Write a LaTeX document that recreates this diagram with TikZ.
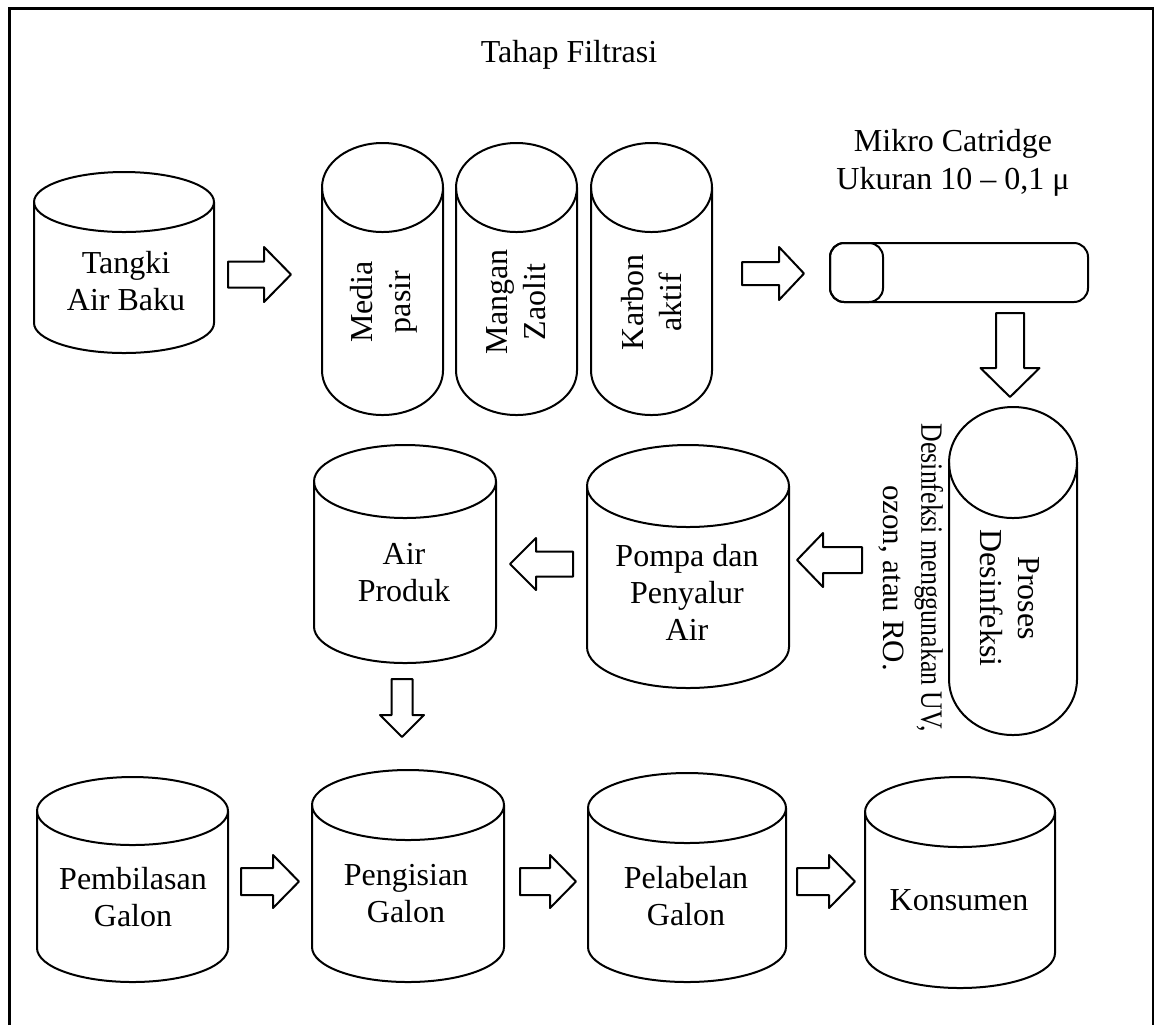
\documentclass[tikz,border=0pt]{standalone}
\usepackage{fontspec}
\setmainfont{Liberation Serif}
\usepackage{graphicx}
\newcommand\cylshape[5]{% x1 x2 top bottom ry
  \pgfmathsetmacro\cylcx{(#1+#2)/2}%
  \pgfmathsetmacro\cylrx{(#2-#1)/2}%
  \pgfmathsetmacro\cylct{#3+#5}%
  \pgfmathsetmacro\cylcb{#4-#5}%
  \pgfmathsetmacro\cylkx{0.5523*\cylrx}%
  \pgfmathsetmacro\cylky{0.5523*#5}%
  \draw[shapeline] (\cylcx,\cylct) ellipse [x radius=\cylrx, y radius=#5];
  \draw[shapeline] (#1,\cylct) -- (#1,\cylcb)
    .. controls (#1,\cylcb+\cylky) and (\cylcx-\cylkx,#4) .. (\cylcx,#4)
    .. controls (\cylcx+\cylkx,#4) and (#2,\cylcb+\cylky) .. (#2,\cylcb) -- (#2,\cylct);
}
\newcommand\blockarrow[7]{% x y rot L h s H
  \draw[shapeline, shift={(#1,#2)}, rotate=#3] (0,-#6) -- (#4-#5,-#6) -- (#4-#5,-#7) -- (#4,0)
    -- (#4-#5,#7) -- (#4-#5,#6) -- (0,#6) -- cycle;
}
\begin{document}
\begin{tikzpicture}[x=0.5pt,y=-0.5pt,
  shapeline/.style={line width=1pt, line join=round},
  lbl/.style={inner sep=0pt, align=center, font=\fontsize{16}{18.5}\selectfont},
  rlbl/.style={inner sep=0pt, align=center, font=\fontsize{16}{19}\selectfont}]
\useasboundingbox (0,0) rectangle (1159,1025);
% frame
\draw[line width=1.2pt] (9.5,1025) -- (9.5,8.5) -- (1153,8.5) -- (1153,1025);
\node[lbl, anchor=base] (title) at (569,62) {Tahap Filtrasi};

% cylinders
\cylshape{34}{214}{172}{353}{30}
\cylshape{322}{443}{143}{415}{44.5}
\cylshape{456}{577}{143}{415}{44.5}
\cylshape{591}{712}{143}{415}{44.5}
\cylshape{949}{1077}{407}{735}{55.5}
\cylshape{587}{789}{445}{688}{41}
\cylshape{314}{496}{445}{663}{36.5}
\cylshape{37}{228}{777}{982}{34}
\cylshape{312}{504}{770}{982}{35}
\cylshape{588}{786}{773}{982}{35}
\cylshape{865}{1055}{777}{988}{35}

% micro cartridge
\draw[shapeline, rounded corners=7pt] (830,243) rectangle (1088,302);
\draw[shapeline, rounded corners=7pt] (830,243) rectangle (883,302);

% block arrows
\blockarrow{228}{274.5}{0}{63}{27}{13}{27.5}
\blockarrow{742}{273.5}{0}{62}{25}{11.5}{26.5}
\blockarrow{1010}{313}{-90}{84}{29}{14}{29.5}
\blockarrow{862}{560}{180}{65}{26}{13}{27}
\blockarrow{573}{564}{180}{63}{26}{12.5}{26}
\blockarrow{402}{679}{-90}{58}{22}{10.5}{22}
\blockarrow{241}{881.5}{0}{58}{26}{13.5}{26.5}
\blockarrow{520}{881.5}{0}{56}{26}{13.5}{26.5}
\blockarrow{797}{881.5}{0}{58}{26}{13.5}{26.5}

% labels
\node[lbl] (tangki) at (126,281) {Tangki\\Air Baku};
\node[rlbl, rotate=90] (media) at (384,302) {Media\\pasir};
\node[rlbl, rotate=90] (mangan) at (516.5,302) {Mangan\\Zaolit};
\node[rlbl, rotate=90] (karbon) at (651.5,302) {Karbon\\aktif};
\node[rlbl] (mikro) at (953,163) {Mikro Catridge\\Ukuran 10 – 0,1 μ};
\node[rlbl, rotate=-90] (proses) at (1010,598) {Proses\\Desinfeksi};
\node[inner sep=0pt, align=center, font=\fontsize{15.5}{19}\selectfont, rotate=-90] (annot) at (911,578)
  {\scalebox{0.833}[1]{Desinfeksi menggunakan UV,}\\ozon, atau RO.};
\node[lbl] (pompa) at (687,592) {Pompa dan\\Penyalur\\Air};
\node[lbl] (produk) at (404,573) {Air\\Produk};
\node[lbl] (bilas) at (133,897) {Pembilasan\\Galon};
\node[lbl] (isi) at (406,894) {Pengisian\\Galon};
\node[lbl] (label) at (686,896) {Pelabelan\\Galon};
\node[lbl] (konsumen) at (959,900) {Konsumen};
\end{tikzpicture}
\end{document}
